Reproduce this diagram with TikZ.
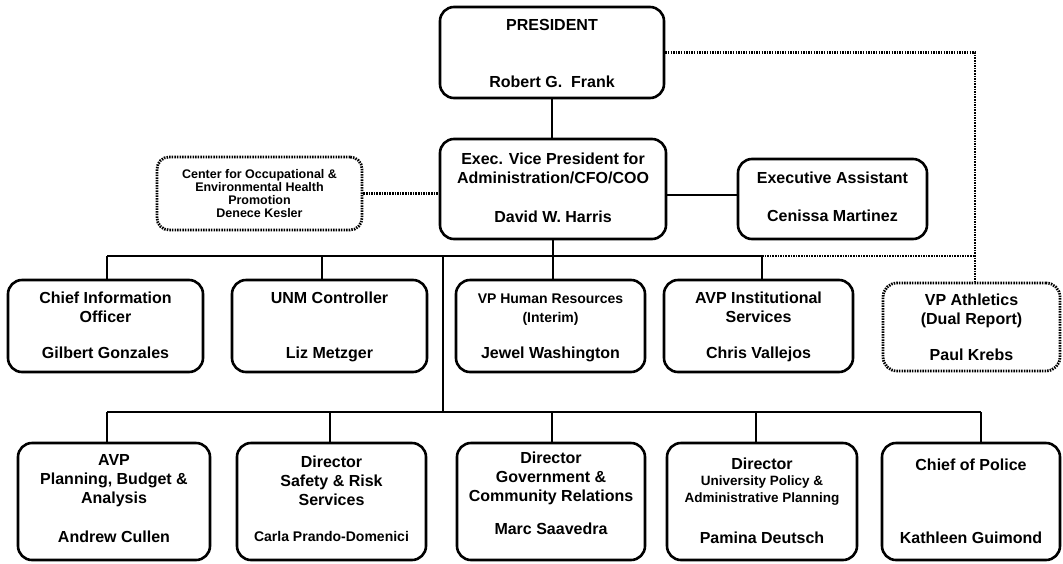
\documentclass[tikz,border=0pt]{standalone}
\usepackage{fontspec}
\setmainfont{Liberation Sans}
% multi-line label: font size, line skip, rows
\newcommand\ml[3]{{\fontsize{#1}{#2}\selectfont\bfseries\begin{tabular}[t]{@{}c@{}}#3\end{tabular}}}
\newcommand\sm{\fontsize{14}{16}\selectfont}
\newcommand\xs{\fontsize{13.5}{15}\selectfont}
\begin{document}
\begin{tikzpicture}[x=1pt,y=-1pt,
  box/.style={draw, line width=2.6pt, rounded corners=14pt, inner sep=0pt},
  dbox/.style={box, line width=2.8pt, dash pattern=on 1.5pt off 1.1pt},
  lbl/.style={inner sep=0pt, anchor=base},
  link/.style={line width=2.2pt},
  dlink/.style={line width=2.8pt, dash pattern=on 1.5pt off 1.1pt}]
\fill[white] (0,0) rectangle (1063,563);
\useasboundingbox (0,0) rectangle (1063,563);

% top level
\node[box, minimum width=224pt, minimum height=91pt] (pres) at (552,52.5) {};
\node[lbl] (pres-t) at (552,30) {\ml{16}{19}{PRESIDENT\\[38pt]Robert G.\ \ Frank}};

\node[box, minimum width=226pt, minimum height=100pt] (evp) at (553,189) {};
\node[lbl] (evp-t) at (553,164) {\ml{16}{19}{Exec. Vice President for\\Administration/CFO/COO\\[20pt]David W. Harris}};

\node[box, minimum width=189pt, minimum height=80pt] (ea) at (832.5,199) {};
\node[lbl] (ea-t) at (832.5,183) {\ml{16}{19}{Executive Assistant\\[19pt]Cenissa Martinez}};

\node[dbox, rounded corners=12pt, minimum width=205pt, minimum height=73pt] (coeh) at (259.5,193.5) {};
\node[lbl] (coeh-t) at (259.5,178) {\ml{12.5}{13}{Center for Occupational \&\\Environmental Health\\Promotion\\Denece Kesler}};

% first row
\node[box, minimum width=195pt, minimum height=92pt] (cio) at (105.5,326) {};
\node[lbl] (cio-t) at (105.5,303) {\ml{16}{19}{Chief Information\\Officer\\[17pt]Gilbert Gonzales}};

\node[box, minimum width=195pt, minimum height=92pt] (ctrl) at (329.5,326) {};
\node[lbl] (ctrl-t) at (329.5,303) {\ml{16}{19}{UNM Controller\\[36pt]Liz Metzger}};

\node[box, minimum width=189pt, minimum height=92pt] (hr) at (550.5,326) {};
\node[lbl] (hr-t) at (550.5,303) {\ml{16}{19}{\sm VP Human Resources\\\sm (Interim)\\[17pt]Jewel Washington}};

\node[box, minimum width=189pt, minimum height=92pt] (avpi) at (758.5,326) {};
\node[lbl] (avpi-t) at (758.5,303) {\ml{16}{19}{AVP Institutional\\Services\\[17pt]Chris Vallejos}};

\node[dbox, minimum width=177pt, minimum height=88pt] (vpa) at (971.5,327) {};
\node[lbl] (vpa-t) at (971.5,305) {\ml{16}{19}{VP Athletics\\(Dual Report)\\[17pt]Paul Krebs}};

% second row
\node[box, minimum width=192pt, minimum height=117pt] (avp) at (114,501.5) {};
\node[lbl] (avp-t) at (114,465) {\ml{16}{19}{AVP\\Planning, Budget \&\\Analysis\\[20pt]Andrew Cullen}};

\node[box, minimum width=189pt, minimum height=117pt] (dsr) at (331.5,501.5) {};
\node[lbl] (dsr-t) at (331.5,467) {\ml{16}{19}{Director\\Safety \& Risk\\Services\\[17pt]\sm Carla Prando-Domenici}};

\node[box, minimum width=188pt, minimum height=117pt] (dgc) at (551,501.5) {};
\node[lbl] (dgc-t) at (551,463) {\ml{16}{19}{Director\\Government \&\\Community Relations\\[14pt]Marc Saavedra}};

\node[box, minimum width=190pt, minimum height=117pt] (dup) at (762,501.5) {};
\node[lbl] (dup-t) at (762,469) {\ml{16}{19}{Director\\[-3pt]\xs University Policy \&\\[-2pt]\xs Administrative Planning\\[22pt]Pamina Deutsch}};

\node[box, minimum width=178pt, minimum height=117pt] (cop) at (971,501.5) {};
\node[lbl] (cop-t) at (971,470) {\ml{16}{19}{Chief of Police\\[54pt]Kathleen Guimond}};

% bus points
\coordinate (bL) at (107,256);
\coordinate (bC) at (322,256);
\coordinate (bT) at (443,256);
\coordinate (bR) at (762,256);
\coordinate (pc) at (975,52.5);
\coordinate (lL) at (107,412);
\coordinate (l2) at (330,412);
\coordinate (l3) at (552,412);
\coordinate (l4) at (756,412);
\coordinate (lR) at (981,412);

% solid reporting lines
\draw[link] (pres.south) -- (pres.south |- evp.north);
\draw[link] (evp.south) -- (evp.south |- hr.north);
\draw[link] ([yshift=4pt]ea.west) -- ([yshift=4pt]ea.west -| evp.east);
\draw[link] (bL) -- (bR);
\draw[link] (bL) -- (bL |- cio.north);
\draw[link] (bC) -- (bC |- ctrl.north);
\draw[link] (bR) -- (bR |- avpi.north);
\draw[link] (bT) -- (bT |- lL);
\draw[link] (lL) -- (lR);
\draw[link] (lL) -- (lL |- avp.north);
\draw[link] (l2) -- (l2 |- dsr.north);
\draw[link] (l3) -- (l3 |- dgc.north);
\draw[link] (l4) -- (l4 |- dup.north);
\draw[link] (lR) -- (lR |- cop.north);

% dotted reporting lines
\draw[dlink] (coeh.east) -- (coeh.east -| evp.west);
\draw[dlink] (pres.east) -- (pc) -- (pc |- vpa.north);
\draw[dlink] (bR) -- (bR -| pc);
\end{tikzpicture}
\end{document}
